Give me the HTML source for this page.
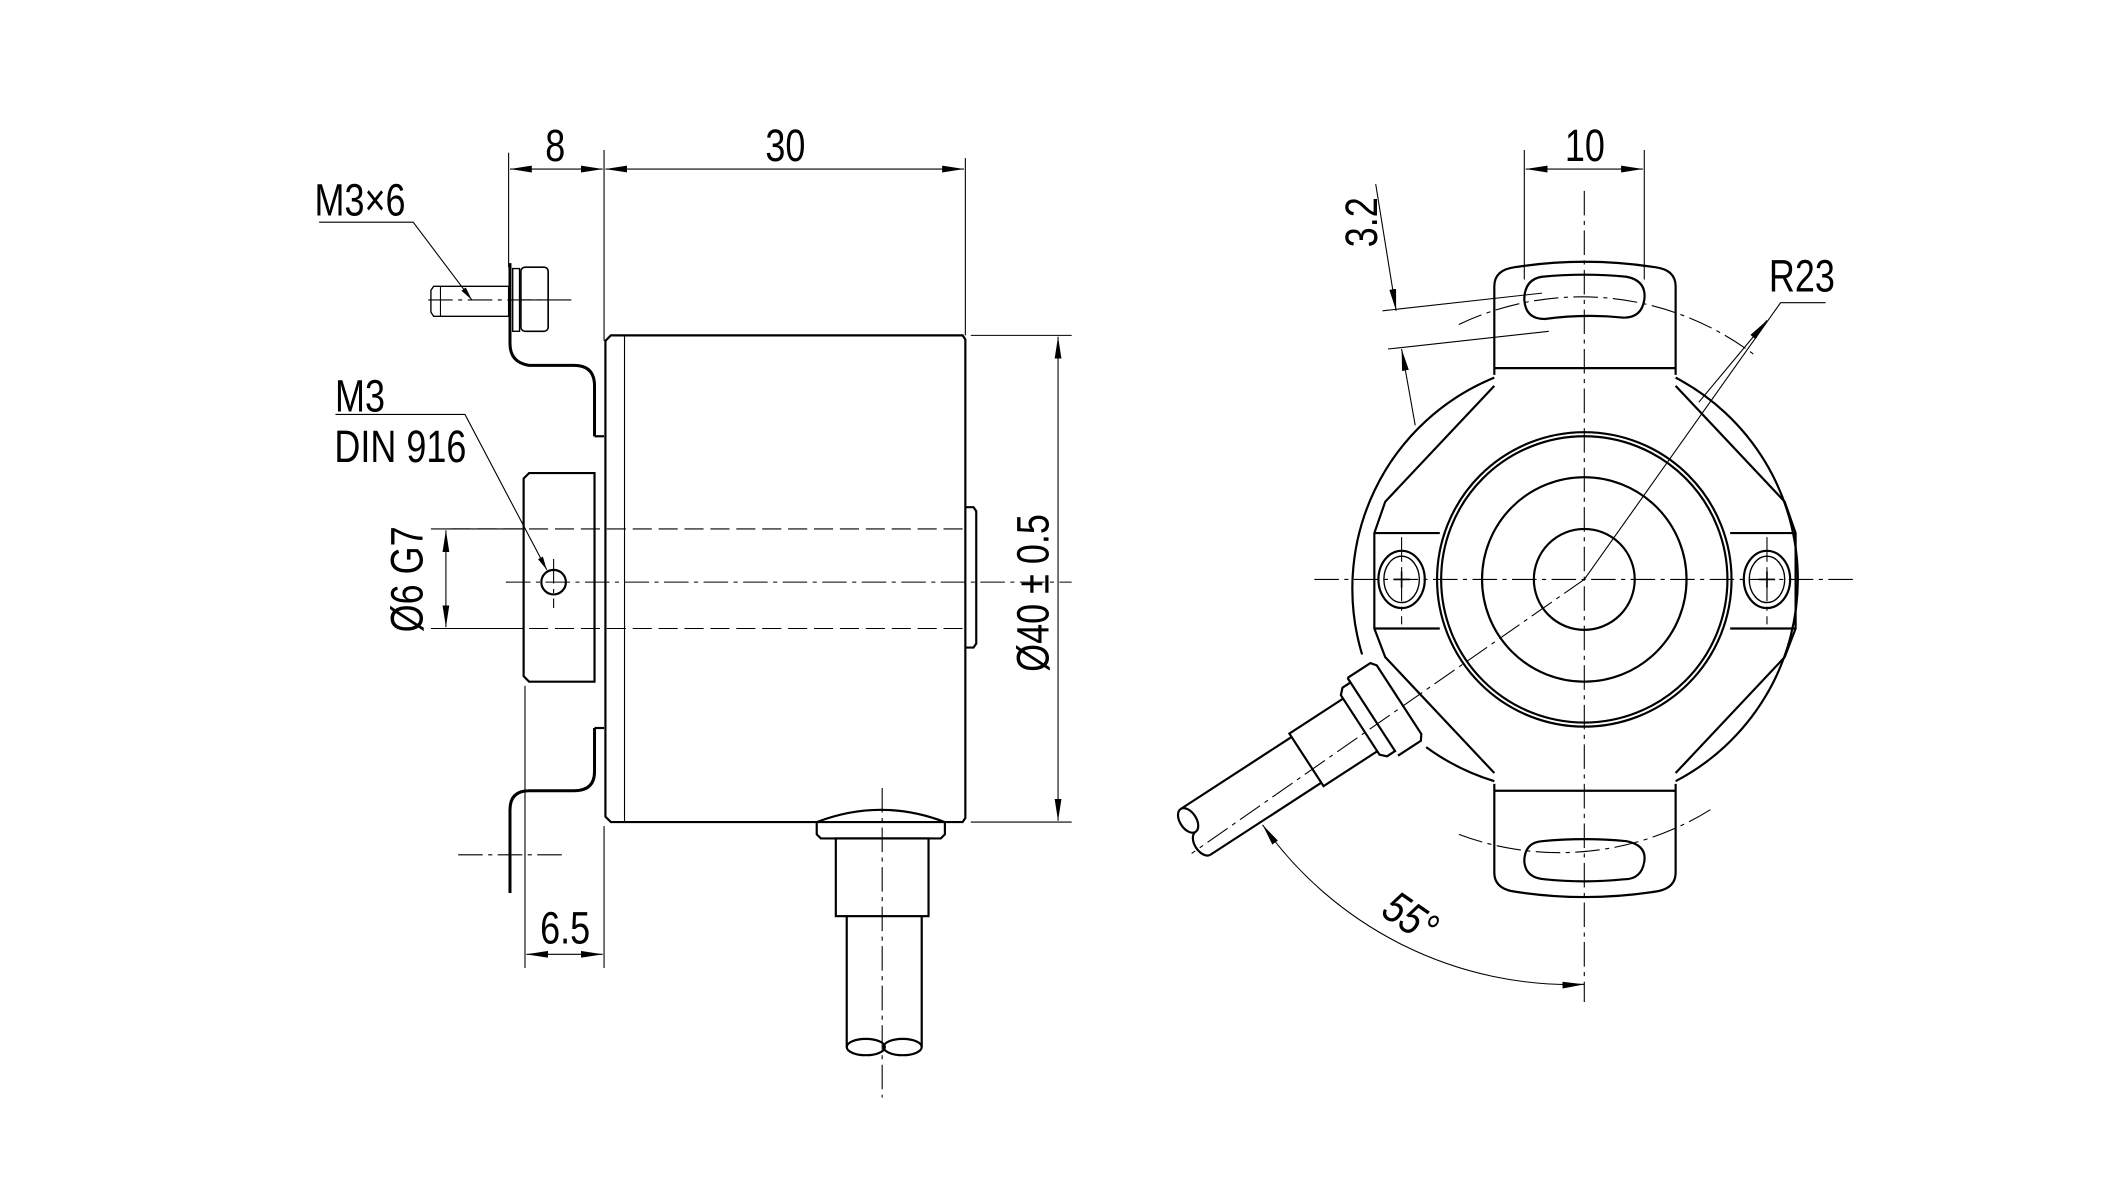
<!DOCTYPE html>
<html><head><meta charset="utf-8"><style>html,body{margin:0;padding:0;background:#fff}svg{display:block}</style></head>
<body>
<svg width="2127" height="1182" viewBox="4 0 1560 867" xmlns="http://www.w3.org/2000/svg" font-family="Liberation Sans, sans-serif">
<defs>
<marker id="a" viewBox="0 0 10 4" refX="10" refY="2" markerWidth="10" markerHeight="4" markerUnits="userSpaceOnUse" orient="auto-start-reverse"><path d="M0,0L10,2L0,4z" fill="#000"/></marker>
<marker id="b" viewBox="0 0 16 5" refX="16" refY="2.5" markerWidth="16" markerHeight="5" markerUnits="userSpaceOnUse" orient="auto-start-reverse"><path d="M0,0L16,2.5L0,5z" fill="#000"/></marker>
</defs>
<rect x="0" width="1570" height="867" fill="#fff"/>
<g fill="none" stroke="#000">
<!-- LEFT VIEW -->
<g stroke-width="0.8">
<line x1="377" y1="112" x2="377" y2="196"/>
<line x1="447" y1="110" x2="447" y2="250"/>
<line x1="712" y1="116" x2="712" y2="246"/>
<line x1="378" y1="124" x2="446" y2="124" marker-start="url(#b)" marker-end="url(#b)"/>
<line x1="448" y1="124" x2="711" y2="124" marker-start="url(#b)" marker-end="url(#b)"/>
<line x1="716" y1="246" x2="790" y2="246"/>
<line x1="716" y1="603" x2="790" y2="603"/>
<line x1="780" y1="247" x2="780" y2="602" marker-start="url(#b)" marker-end="url(#b)"/>
<line x1="320" y1="388" x2="388" y2="388"/>
<line x1="320" y1="461" x2="388" y2="461"/>
<line x1="331" y1="389" x2="331" y2="460" marker-start="url(#b)" marker-end="url(#b)"/>
<line x1="389" y1="503" x2="389" y2="710"/>
<line x1="447" y1="606" x2="447" y2="710"/>
<line x1="390" y1="700" x2="446" y2="700" marker-start="url(#b)" marker-end="url(#b)"/>
<polyline points="238,163 307,163 350,220" marker-end="url(#a)"/>
<polyline points="250,304 345,304 405,418" marker-end="url(#a)"/>
<g stroke-dasharray="18,4,3,4">
<line x1="375" y1="427" x2="790" y2="427"/>
<line x1="318" y1="220" x2="425" y2="220"/>
<line x1="340" y1="627" x2="420" y2="627"/>
<line x1="651" y1="578" x2="651" y2="805"/>
<line x1="410" y1="410" x2="410" y2="446"/>
</g>
<g stroke-dasharray="14,5">
<line x1="335" y1="388" x2="712" y2="388"/>
<line x1="335" y1="461" x2="712" y2="461"/>
</g>
</g>
<g stroke-width="1.6">
<path d="M452,246 L710,246 L712,249 L712,600 L710,603 L452,603 L448,599 L448,250 Z"/>
<line x1="462" y1="246" x2="462" y2="603" stroke-width="0.8"/>
<path d="M712,372 L718,372 L720,375 L720,472 L718,475 L712,475"/>
<path d="M392,347 L440,347 L440,500 L392,500 L388,496 L388,351 Z"/>
<circle cx="410" cy="427" r="9"/>
<path d="M378,193 L378,252 Q378,266 392,268 L425,268 Q440,268 440,283 L440,320" stroke-width="2.2"/>
<path d="M440,534 L440,566 Q440,580 425,580 L392,580 Q378,580 378,594 L378,655" stroke-width="2.2"/>
<line x1="440" y1="320" x2="447" y2="320"/>
<line x1="440" y1="534" x2="447" y2="534"/>
<path d="M322,210 L377,210 L377,232 L322,232 L320,229 L320,213 Z" stroke-width="1"/>
<line x1="327" y1="210" x2="327" y2="232" stroke-width="0.8"/>
<rect x="380" y="197" width="5" height="46" stroke-width="1"/>
<rect x="386" y="196" width="20" height="47" rx="3" stroke-width="1.2"/>
<line x1="386" y1="220" x2="406" y2="220" stroke-width="0.8"/>
<path d="M603,603 Q650,585 697,603 L697,612 L694,615 L606,615 L603,612 Z"/>
<rect x="617" y="615" width="68" height="57"/>
<line x1="625" y1="672" x2="625" y2="768"/>
<line x1="680" y1="672" x2="680" y2="768"/>
<ellipse cx="639" cy="768" rx="14" ry="6"/>
<ellipse cx="666" cy="768" rx="14" ry="6"/>
</g>
<!-- RIGHT VIEW -->
<g stroke-width="0.8">
<line x1="1122" y1="110" x2="1122" y2="205"/>
<line x1="1210" y1="110" x2="1210" y2="205"/>
<line x1="1123" y1="124" x2="1209" y2="124" marker-start="url(#b)" marker-end="url(#b)"/>
<line x1="1018" y1="228" x2="1135" y2="215"/>
<line x1="1022" y1="256" x2="1140" y2="243"/>
<line x1="1013" y1="135" x2="1028" y2="228" marker-end="url(#b)"/>
<line x1="1042" y1="312" x2="1032" y2="256" marker-end="url(#b)"/>
<polyline points="1166,425 1310,222 1343,222"/>
<line x1="1250" y1="295" x2="1300" y2="235" marker-end="url(#b)"/>
<path d="M930,605 A277,277 0 0 0 1166,722" marker-start="url(#b)" marker-end="url(#b)"/>
<g stroke-dasharray="18,4,3,4">
<line x1="968" y1="425" x2="1365" y2="425"/>
<line x1="1166" y1="140" x2="1166" y2="735"/>
<line x1="1032" y1="394" x2="1032" y2="458"/>
<line x1="1300" y1="394" x2="1300" y2="458"/>
<line x1="1166" y1="425" x2="878" y2="626"/>
<path d="M1074,238 A210,210 0 0 1 1293,262"/>
<path d="M1074,612 A210,210 0 0 0 1260,593"/>
</g>
</g>
<g stroke-width="1.6">
<path d="M1100,275 L1100,210 Q1100,198 1115,196 Q1166,188 1218,196 Q1233,198 1233,210 L1233,275"/>
<line x1="1100" y1="270" x2="1233" y2="270"/>
<path d="M1100,575 L1100,640 Q1100,652 1115,654 Q1166,662 1218,654 Q1233,652 1233,640 L1233,575"/>
<line x1="1100" y1="580" x2="1233" y2="580"/>
<path d="M1100,277 A167,167 0 0 0 1003,480"/>
<path d="M1233,277 A167,167 0 0 1 1233,573"/>
<path d="M1100,573 A167,167 0 0 1 1050,548"/>
<polyline points="1100,283 1020,368 1012,391 1012,461 1020,482 1100,567"/>
<polyline points="1233,283 1313,368 1321,391 1321,461 1313,482 1233,567"/>
<line x1="1012" y1="391" x2="1060" y2="391"/><line x1="1012" y1="461" x2="1060" y2="461"/>
<line x1="1273" y1="391" x2="1321" y2="391"/><line x1="1273" y1="461" x2="1321" y2="461"/>
<circle cx="1166" cy="425" r="108"/>
<circle cx="1166" cy="425" r="105"/>
<circle cx="1166" cy="425" r="75"/>
<circle cx="1166" cy="425" r="37"/>
<ellipse cx="1032" cy="425" rx="17" ry="21"/><ellipse cx="1032" cy="425" rx="13" ry="17" stroke-width="1"/>
<ellipse cx="1300" cy="425" rx="17" ry="21"/><ellipse cx="1300" cy="425" rx="13" ry="17" stroke-width="1"/>
<path d="M1026,425 L1038,425 M1032,419 L1032,431" stroke-width="1.2"/>
<path d="M1294,425 L1306,425 M1300,419 L1300,431" stroke-width="1.2"/>
<path d="M1135,203 Q1166,200 1197,203 Q1212,206 1210,220 Q1208,233 1195,233 Q1166,230 1137,234 Q1123,234 1122,220 Q1122,205 1135,203 Z"/>
<path d="M1135,617 Q1166,614 1197,617 Q1212,620 1210,632 Q1208,645 1195,645 Q1166,648 1137,645 Q1123,644 1122,632 Q1122,618 1135,617 Z"/>
<g transform="rotate(57 1166 425)">
<path d="M1132,610 L1132,590 L1136,587 L1196,587 L1200,590 L1200,610"/>
<path d="M1136,610 L1136,617 L1140,621 L1192,621 L1196,617 L1196,610 L1132,610"/>
<path d="M1143,621 L1143,668 L1189,668 L1189,621"/>
<line x1="1146" y1="668" x2="1146" y2="765"/>
<line x1="1186" y1="668" x2="1186" y2="765"/>
<ellipse cx="1156" cy="765" rx="10" ry="6"/>
<path d="M1166,765 A10,6 0 0 0 1186,765"/>
</g>
</g>
</g>
<g font-size="33" fill="#000" text-anchor="middle" transform="scale(0.8,1)">
<text x="514" y="118">8</text>
<text x="725" y="118">30</text>
<text x="335" y="158">M3×6</text>
<text x="335" y="302">M3</text>
<text x="372" y="339">DIN 916</text>
<text x="523" y="692">6.5</text>
<text x="1458" y="118">10</text>
<text x="1657" y="214">R23</text>
</g>
<g font-size="33" fill="#000" text-anchor="middle">
<text transform="translate(314,425) rotate(-90) scale(0.8,1)">Ø6 G7</text>
<text transform="translate(773,435) rotate(-90) scale(0.8,1)">Ø40 ± 0.5</text>
<text transform="translate(1014,163) rotate(-90) scale(0.8,1)">3.2</text>
<text transform="translate(1032,682) rotate(35) scale(0.8,1)" font-style="italic">55°</text>
</g>
</svg>
</body></html>
